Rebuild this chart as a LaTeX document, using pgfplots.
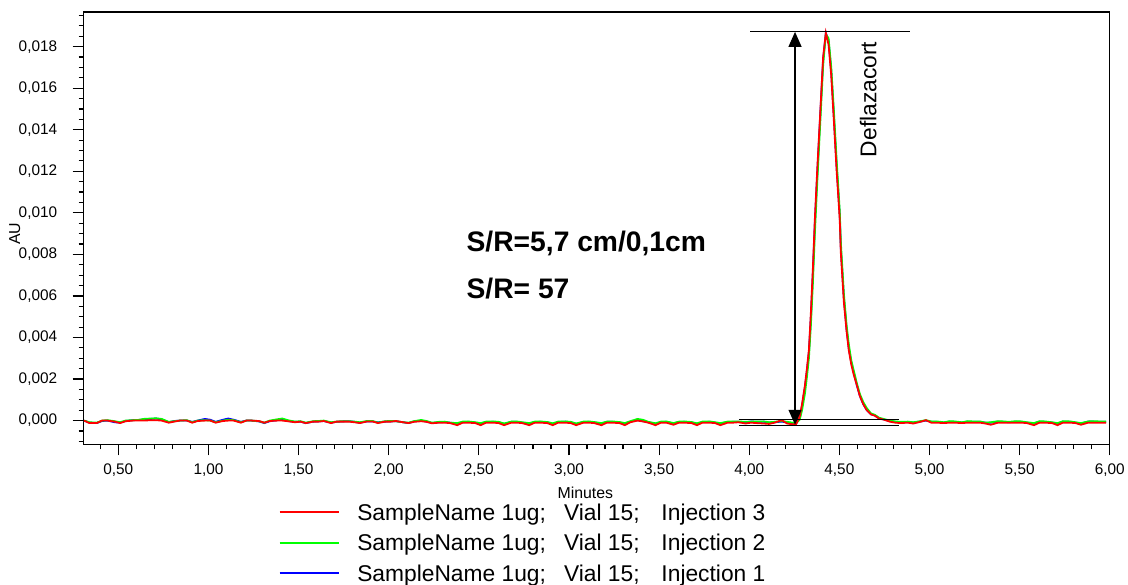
\documentclass[border=0pt]{standalone}
\usepackage{fontspec}
\setmainfont{Liberation Sans}
\usepackage{pgfplots}
\pgfplotsset{compat=1.18}
\usepackage{pgfplotstable}
\usetikzlibrary{arrows.meta}

% x = minutes; r/g/b = injection 3/2/1 (AU)
\pgfplotstableread{
x r g b
0.31 0 0 0
0.34 -0.00012 -0.00008 -0.0001
0.38 -0.00012 -0.0001 -0.00012
0.41 0 0 -0.00002
0.44 0 0.00002 0
0.48 -0.00005 -0.00003 -0.00008
0.51 -0.00012 -0.00008 -0.0001
0.54 -0.00003 0 -0.00002
0.58 0 0.00002 0.00002
0.61 0 0.00003 0.00003
0.64 0 0.00008 0.00005
0.68 0.00002 0.0001 0.00008
0.71 0.00002 0.00011 0.0001
0.74 0 0.00008 0.00006
0.78 -0.0001 -0.00006 -0.00008
0.81 -0.00005 -0.00003 -0.00002
0.84 0 0 0
0.88 0 0.00002 0
0.91 -0.0001 -0.00008 -0.00006
0.94 -0.00002 0 0
0.98 0 0.00002 0.00008
1.01 0 0 0.00004
1.04 -0.0001 -0.00008 -0.00006
1.08 -0.00002 0 0.00004
1.11 0 0.00004 0.0001
1.14 0 0.00002 0.00004
1.18 -0.0001 -0.00008 -0.00006
1.21 0 0 0
1.24 0 0 0
1.28 -0.00002 -0.00003 -0.00004
1.31 -0.0001 -0.0001 -0.00012
1.34 -0.00002 0 -0.00003
1.38 0 0.00006 0.00002
1.41 0 0.0001 0.00004
1.44 -0.00003 0.00002 -0.00002
1.48 -0.00008 -0.00005 -0.00006
1.51 -0.00005 -0.00003 -0.00005
1.54 -0.00012 -0.0001 -0.00012
1.58 -0.00005 -0.00003 -0.00005
1.61 -0.00005 -0.00002 -0.00004
1.64 -0.00002 0 -0.00002
1.68 -0.00012 -0.00008 -0.0001
1.71 -0.00005 -0.00005 -0.00006
1.74 -0.00005 -0.00003 -0.00004
1.78 -0.00005 -0.00003 -0.00003
1.81 -0.00008 -0.00005 -0.00006
1.84 -0.00012 -0.00008 -0.0001
1.88 -0.00004 -0.00002 -0.00004
1.91 -0.00004 -0.00002 -0.00004
1.94 -0.00012 -0.0001 -0.00008
1.98 -0.00005 -0.00003 -0.00005
2.01 -0.00005 -0.00002 -0.00004
2.04 -0.00002 -0.00003 -0.00003
2.08 -0.00008 -0.00008 -0.00008
2.11 -0.00012 -0.0001 -0.00012
2.14 -0.00006 -0.00003 -0.00004
2.18 -0.00003 0.00003 0
2.21 -0.00006 -0.00002 -0.00005
2.24 -0.00013 -0.0001 -0.00012
2.28 -0.0001 -0.00006 -0.00008
2.31 -0.0001 -0.00005 -0.00007
2.34 -0.00012 -0.0001 -0.0001
2.38 -0.00022 -0.00012 -0.00014
2.41 -0.0001 -0.00005 -0.00008
2.44 -0.0001 -0.00004 -0.00006
2.48 -0.00012 -0.00008 -0.0001
2.51 -0.00022 -0.00012 -0.00015
2.54 -0.0001 -0.00005 -0.00007
2.58 -0.0001 -0.00004 -0.00006
2.61 -0.00012 -0.00006 -0.00008
2.64 -0.00022 -0.00014 -0.00016
2.68 -0.0001 -0.00005 -0.00006
2.71 -0.0001 -0.00004 -0.00006
2.74 -0.00012 -0.00008 -0.0001
2.78 -0.00022 -0.00012 -0.00014
2.81 -0.0001 -0.00005 -0.00007
2.84 -0.0001 -0.00004 -0.00006
2.88 -0.00012 -0.00007 -0.00008
2.91 -0.00022 -0.00013 -0.00015
2.94 -0.0001 -0.00005 -0.00007
2.98 -0.0001 -0.00004 -0.00005
3.01 -0.00012 -0.00006 -0.00008
3.04 -0.00022 -0.00014 -0.00016
3.08 -0.0001 -0.00005 -0.00007
3.11 -0.0001 -0.00004 -0.00006
3.14 -0.00012 -0.00007 -0.00009
3.18 -0.00022 -0.00012 -0.00014
3.21 -0.0001 -0.00005 -0.00006
3.24 -0.0001 -0.00004 -0.00006
3.28 -0.00012 -0.00007 -0.00009
3.31 -0.00022 -0.00012 -0.00015
3.34 -0.00008 -0.00003 -0.00005
3.38 0 0.00008 0.00002
3.41 -0.00004 0.00004 -0.00003
3.44 -0.0001 -0.00006 -0.00008
3.48 -0.00022 -0.00013 -0.00015
3.51 -0.0001 -0.00005 -0.00007
3.54 -0.0001 -0.00004 -0.00006
3.58 -0.0002 -0.00012 -0.00014
3.61 -0.0001 -0.00005 -0.00007
3.64 -0.0001 -0.00004 -0.00006
3.68 -0.00012 -0.00007 -0.00009
3.71 -0.00022 -0.00013 -0.00015
3.74 -0.0001 -0.00005 -0.00007
3.78 -0.0001 -0.00004 -0.00006
3.81 -0.00012 -0.00008 -0.0001
3.84 -0.00022 -0.00012 -0.00014
3.88 -0.0001 -0.00005 -0.00007
3.91 -0.0001 -0.00004 -0.00006
3.94 -0.00008 -0.00004 -0.00006
3.98 -0.00014 -0.00006 -0.00008
4.01 -0.0001 -0.00005 -0.00004
4.04 -0.00012 -0.00005 -0.00006
4.08 -0.00014 -0.00004 -0.00005
4.11 -0.00016 -0.00008 -0.0001
4.14 -0.0001 -0.00006 -0.00008
4.18 0.00002 -0.00002 -0.00005
4.21 -0.00014 -0.00006 -0.00009
4.24 -0.00018 -0.0001 -0.00012
4.26 -0.00018 -0.00012 -0.00014
4.28 0.0002 0.00005 0.0001
4.293 0.0008 0.0005 0.0007
4.309 0.0017 0.0013 0.0016
4.32 0.0025 0.0021 0.0024
4.331 0.0034 0.0030 0.0033
4.342 0.0052 0.0046 0.0050
4.353 0.0073 0.0066 0.0071
4.364 0.0097 0.0090 0.0095
4.378 0.0122 0.0116 0.0120
4.392 0.0145 0.0140 0.0144
4.41 0.0175 0.0171 0.0174
4.425 0.01866 0.0186 0.01865
4.44 0.0181 0.0184 0.0183
4.455 0.0166 0.0170 0.0168
4.469 0.0145 0.0150 0.0147
4.485 0.0120 0.0125 0.0122
4.502 0.0097 0.0101 0.0099
4.508 0.0081 0.0086 0.0083
4.525 0.0057 0.0061 0.0059
4.54 0.0043 0.0046 0.0044
4.552 0.0034 0.0037 0.0035
4.566 0.0027 0.0029 0.0028
4.58 0.0022 0.0024 0.0023
4.597 0.0017 0.0018 0.0017
4.613 0.0012 0.0013 0.0012
4.632 0.0008 0.0009 0.0008
4.652 0.0005 0.0006 0.0005
4.675 0.0003 0.00035 0.0003
4.696 0.00024 0.00028 0.00025
4.72 0.0001 0.00014 0.00011
4.745 0.00005 0.00008 0.00006
4.78 -0.00005 0 -0.00003
4.81 -0.0001 -0.00004 -0.00006
4.84 -0.00012 -0.00006 -0.00008
4.88 -0.0001 -0.00005 -0.00007
4.91 -0.00014 -0.00008 -0.0001
4.94 -0.00008 -0.00004 -0.00006
4.98 0.00002 0.00002 0
5.01 -0.0001 -0.00004 -0.00006
5.04 -0.0001 -0.00004 -0.00006
5.08 -0.00012 -0.00008 -0.0001
5.11 -0.0001 -0.00003 -0.00005
5.14 -0.0001 -0.00004 -0.00006
5.18 -0.00012 -0.00008 -0.0001
5.21 -0.0001 -0.00003 -0.00005
5.24 -0.0001 -0.00004 -0.00006
5.28 -0.0001 -0.00004 -0.00006
5.31 -0.00014 -0.0001 -0.0001
5.34 -0.0002 -0.00008 -0.0001
5.38 -0.0001 -0.00003 -0.00005
5.41 -0.0001 -0.00004 -0.00006
5.44 -0.0001 -0.00006 -0.00008
5.48 -0.0001 -0.00003 -0.00005
5.51 -0.0001 -0.00004 -0.00006
5.54 -0.00012 -0.00008 -0.0001
5.58 -0.00022 -0.00012 -0.00014
5.61 -0.0001 -0.00003 -0.00005
5.64 -0.0001 -0.00004 -0.00006
5.68 -0.00012 -0.00008 -0.0001
5.71 -0.00022 -0.00012 -0.00014
5.74 -0.0001 -0.00003 -0.00005
5.78 -0.0001 -0.00004 -0.00006
5.81 -0.00012 -0.00008 -0.0001
5.84 -0.0002 -0.00012 -0.00014
5.88 -0.0001 -0.00004 -0.00005
5.91 -0.0001 -0.00003 -0.00005
5.94 -0.0001 -0.00004 -0.00006
5.98 -0.0001 -0.00005 -0.00006
}\chrom

\newcommand{\entry}[1]{\makebox[208bp][l]{SampleName 1ug;}\makebox[98bp][l]{Vial 15;}Injection #1}

\begin{document}
\begin{tikzpicture}
\begin{axis}[
    scale only axis,
    width=1032bp, height=435bp,
    xmin=0.307, xmax=6.0,
    ymin=-0.00115, ymax=0.01967,
    axis line style={line width=1.2bp},
    tick style={black, line width=1.2bp},
    tick align=outside,
    xtick pos=bottom, ytick pos=left,
    major tick length=11bp, minor tick length=5bp,
    xtick={0.5,1,1.5,2,2.5,3,3.5,4,4.5,5,5.5,6},
    minor xtick={0.3,0.4,0.6,0.7,0.8,0.9,1.1,1.2,1.3,1.4,1.6,1.7,1.8,1.9,2.1,2.2,2.3,2.4,2.6,2.7,2.8,2.9,3.1,3.2,3.3,3.4,3.6,3.7,3.8,3.9,4.1,4.2,4.3,4.4,4.6,4.7,4.8,4.9,5.1,5.2,5.3,5.4,5.6,5.7,5.8,5.9},
    ytick={0,0.002,0.004,0.006,0.008,0.010,0.012,0.014,0.016,0.018},
    minor ytick={-0.001,-0.0005,0.0005,0.001,0.0015,0.0025,0.003,0.0035,0.0045,0.005,0.0055,0.0065,0.007,0.0075,0.0085,0.009,0.0095,0.0105,0.011,0.0115,0.0125,0.013,0.0135,0.0145,0.015,0.0155,0.0165,0.017,0.0175,0.0185,0.019,0.0195},
    scaled x ticks=false, scaled y ticks=false,
    /pgf/number format/assume math mode=true,
    tick label style={font=\fontsize{15.5}{18}\selectfont},
    xticklabel style={yshift=-5bp, /pgf/number format/.cd, fixed, fixed zerofill, precision=2, use comma},
    yticklabel style={xshift=-12bp, /pgf/number format/.cd, fixed, fixed zerofill, precision=3, use comma},
    xlabel={Minutes},
    xlabel style={font=\fontsize{16}{18}\selectfont, at={(axis description cs:0.489,-0.112)}, anchor=center},
    ylabel={AU},
    ylabel style={font=\fontsize{16}{18}\selectfont, at={(axis description cs:-0.067,0.487)}, anchor=center},
    legend style={at={(axis description cs:0.19,-0.1374)}, anchor=north west, draw=none, fill=none,
        inner sep=0pt, font=\fontsize{23}{27}\selectfont, row sep=14bp,
        nodes={inner sep=0pt, text height=16.5bp, text depth=0bp},
        /tikz/every odd column/.append style={column sep=17bp}},
    legend cell align=left,
    legend image code/.code={\draw[#1, line width=2bp] (0bp,0bp) -- (60bp,0bp);},
]
% legend order as in the reference: injection 3, 2, 1
\addlegendimage{red}
\addlegendentry{\entry{3}}
\addlegendimage{green}
\addlegendentry{\entry{2}}
\addlegendimage{blue}
\addlegendentry{\entry{1}}

\addplot[blue, line width=1.8bp, forget plot] table[x=x, y=b] {\chrom};
\addplot[green, line width=1.8bp, forget plot] table[x=x, y=g] {\chrom};
\addplot[red, line width=1.8bp, forget plot] table[x=x, y=r] {\chrom};

% S/N construction lines
\draw[line width=1.2bp] (axis cs:4.005,0.01871) -- (axis cs:4.89,0.01871);
\draw[line width=1.2bp] (axis cs:3.943,0.00006) -- (axis cs:4.829,0.00006);
\draw[line width=1.2bp] (axis cs:3.943,-0.00025) -- (axis cs:4.829,-0.00025);
\draw[line width=1.2bp, {Triangle[length=15bp,width=13bp]}-{Triangle[length=15bp,width=13bp]}]
    (axis cs:4.254,0.01871) -- (axis cs:4.254,-0.0002);

\node[rotate=90, font=\fontsize{23}{25}\selectfont] at (axis cs:4.66,0.01546) {Deflazacort};
\node[anchor=west, font=\fontsize{28.5}{32}\bfseries] at (axis cs:2.413,0.00852) {S/R=5,7 cm/0,1cm};
\node[anchor=west, font=\fontsize{28.5}{32}\bfseries] at (axis cs:2.413,0.00636) {S/R= 57};
\end{axis}
\path ([shift={(-84bp,-141bp)}]current axis.south west) rectangle ([shift={(12bp,12bp)}]current axis.north east);
\end{tikzpicture}
\end{document}
